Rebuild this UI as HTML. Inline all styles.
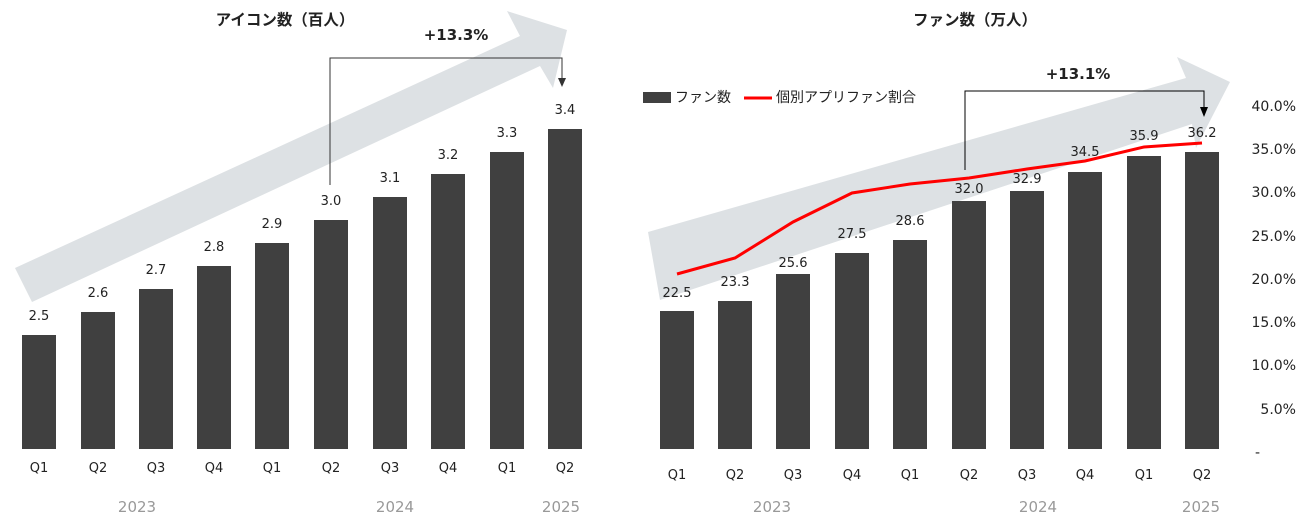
<!DOCTYPE html>
<html><head><meta charset="utf-8"><style>
body{margin:0;background:#fff}
svg text{font-family:"DejaVu Sans","Liberation Sans","Noto Sans CJK JP",sans-serif;fill:#222}
</style></head><body>
<svg width="1310" height="515" viewBox="0 0 1310 515" xmlns="http://www.w3.org/2000/svg">
<polygon points="15,268 520,36 507,11 567,30 553,88 540,66 32,302" fill="#dde1e4"/>
<polygon points="648,232 1186,78 1177,57 1230,82 1196,148 1192,124 660,300" fill="#dde1e4"/>
<text x="285" y="25" font-size="15.5" font-weight="bold" text-anchor="middle">アイコン数（百人）</text>
<text x="456" y="40" font-size="15" font-weight="bold" text-anchor="middle">+13.3%</text>
<path d="M330,185 V58 H562 V78" fill="none" stroke="#333" stroke-width="1"/>
<polygon points="558,78 566,78 562,87" fill="#333"/>
<g fill="#404040">
<rect x="22" y="335" width="34" height="114"/><rect x="81" y="312" width="34" height="137"/>
<rect x="139" y="289" width="34" height="160"/><rect x="197" y="266" width="34" height="183"/>
<rect x="255" y="243" width="34" height="206"/><rect x="314" y="220" width="34" height="229"/>
<rect x="373" y="197" width="34" height="252"/><rect x="431" y="174" width="34" height="275"/>
<rect x="490" y="152" width="34" height="297"/><rect x="548" y="129" width="34" height="320"/>
</g>
<g font-size="13" text-anchor="middle">
<text x="39" y="320">2.5</text><text x="98" y="297">2.6</text><text x="156" y="274">2.7</text><text x="214" y="251">2.8</text><text x="272" y="228">2.9</text><text x="331" y="205">3.0</text><text x="390" y="182">3.1</text><text x="448" y="159">3.2</text><text x="507" y="137">3.3</text><text x="565" y="114">3.4</text>
<text x="39" y="472">Q1</text><text x="98" y="472">Q2</text><text x="156" y="472">Q3</text><text x="214" y="472">Q4</text><text x="272" y="472">Q1</text><text x="331" y="472">Q2</text><text x="390" y="472">Q3</text><text x="448" y="472">Q4</text><text x="507" y="472">Q1</text><text x="565" y="472">Q2</text>
</g>
<g font-size="15" text-anchor="middle"><text x="137" y="512" style="fill:#999">2023</text><text x="395" y="512" style="fill:#999">2024</text><text x="561" y="512" style="fill:#999">2025</text></g>

<text x="975" y="25" font-size="15.5" font-weight="bold" text-anchor="middle">ファン数（万人）</text>
<text x="1078" y="79" font-size="15" font-weight="bold" text-anchor="middle">+13.1%</text>
<path d="M965,170 V91 H1204 V108" fill="none" stroke="#000" stroke-width="1"/>
<polygon points="1200,107 1208,107 1204,117" fill="#000"/>
<rect x="643" y="92" width="28" height="11" fill="#404040"/>
<text x="675" y="102" font-size="14">ファン数</text>
<line x1="744" y1="98" x2="772" y2="98" stroke="#f00" stroke-width="3"/>
<text x="776" y="102" font-size="14">個別アプリファン割合</text>
<g fill="#404040">
<rect x="660" y="311" width="34" height="138"/><rect x="718" y="301" width="34" height="148"/>
<rect x="776" y="274" width="34" height="175"/><rect x="835" y="253" width="34" height="196"/>
<rect x="893" y="240" width="34" height="209"/><rect x="952" y="201" width="34" height="248"/>
<rect x="1010" y="191" width="34" height="258"/><rect x="1068" y="172" width="34" height="277"/>
<rect x="1127" y="156" width="34" height="293"/><rect x="1185" y="152" width="34" height="297"/>
</g>
<polyline points="677,274 735,258 793,222 852,193 910,184 969,178 1027,169 1085,161 1144,147 1202,143" fill="none" stroke="#f00" stroke-width="3"/>
<g font-size="13" text-anchor="middle">
<text x="677" y="297">22.5</text><text x="735" y="286">23.3</text><text x="793" y="267">25.6</text><text x="852" y="238">27.5</text><text x="910" y="225">28.6</text><text x="969" y="193">32.0</text><text x="1027" y="183">32.9</text><text x="1085" y="156">34.5</text><text x="1144" y="140">35.9</text><text x="1202" y="137">36.2</text>
<text x="677" y="479">Q1</text><text x="735" y="479">Q2</text><text x="793" y="479">Q3</text><text x="852" y="479">Q4</text><text x="910" y="479">Q1</text><text x="969" y="479">Q2</text><text x="1027" y="479">Q3</text><text x="1085" y="479">Q4</text><text x="1144" y="479">Q1</text><text x="1202" y="479">Q2</text>
</g>
<g font-size="14" text-anchor="end">
<text x="1296" y="111">40.0%</text><text x="1296" y="154">35.0%</text><text x="1296" y="197">30.0%</text><text x="1296" y="241">25.0%</text><text x="1296" y="284">20.0%</text><text x="1296" y="327">15.0%</text><text x="1296" y="370">10.0%</text><text x="1296" y="414">5.0%</text><text x="1255" y="457" text-anchor="start">-</text>
</g>
<g font-size="15" text-anchor="middle"><text x="772" y="512" style="fill:#999">2023</text><text x="1038" y="512" style="fill:#999">2024</text><text x="1201" y="512" style="fill:#999">2025</text></g>
</svg>
</body></html>
